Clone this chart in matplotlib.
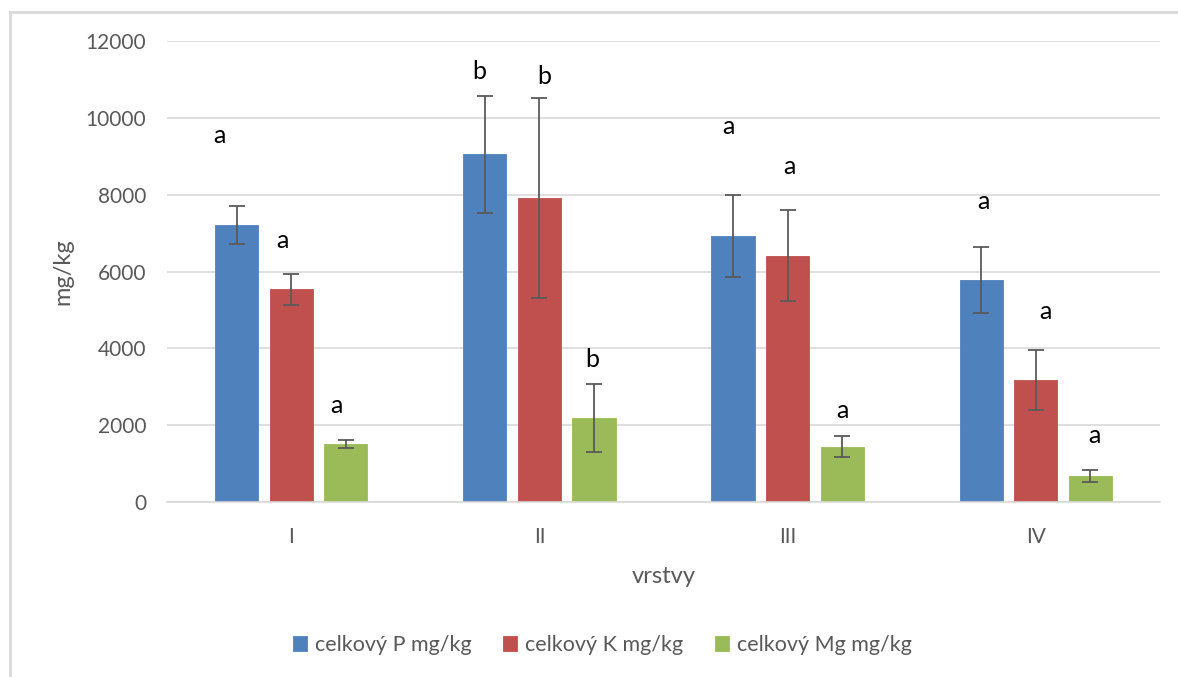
import numpy as np
import matplotlib
matplotlib.use("Agg")
import matplotlib.pyplot as plt
from matplotlib.lines import Line2D

plt.rcParams['font.family'] = ['Lato', 'DejaVu Sans']

layers = ["I", "II", "III", "IV"]
series = ["celkový P mg/kg", "celkový K mg/kg", "celkový Mg mg/kg"]
colors = ["#4F81BD", "#C0504D", "#9BBB59"]

p_mean = [7210, 9050, 6925, 5775]
k_mean = [5540, 7910, 6415, 3170]
mg_mean = [1510, 2180, 1440, 670]

p_err = [490, 1520, 1070, 850]
k_err = [400, 2610, 1185, 780]
mg_err = [105, 885, 270, 155]

# significance letters and where their baseline sits (mg/kg)
p_letters = ["a", "b", "a", "a"]
k_letters = ["a", "b", "a", "a"]
mg_letters = ["a", "b", "a", "a"]
p_letter_y = [9340, 11010, 9580, 7630]
k_letter_y = [6610, 10880, 8540, 4760]
mg_letter_y = [2320, 3510, 2190, 1540]
p_letter_dx = [-0.067, -0.022, -0.020, 0.008]
k_letter_dx = [-0.036, 0.018, 0.006, 0.038]
mg_letter_dx = [-0.038, -0.008, 0.002, 0.016]

means = [p_mean, k_mean, mg_mean]
errs = [p_err, k_err, mg_err]
letters = [p_letters, k_letters, mg_letters]
letter_y = [p_letter_y, k_letter_y, mg_letter_y]
letter_dx = [p_letter_dx, k_letter_dx, mg_letter_dx]

fig = plt.figure(figsize=(11.78, 6.77), dpi=100)
ax = fig.add_axes([167 / 1178, 1 - 502 / 677, (1160 - 167) / 1178, (502 - 41) / 677])

x = np.arange(len(layers))
width = 0.174
step = 0.22
for i in range(3):
    pos = x + (i - 1) * step
    ax.bar(pos, means[i], width, color=colors[i], label=series[i], zorder=2,
           edgecolor=colors[i], linewidth=0.6)
    ax.errorbar(pos, means[i], yerr=errs[i], fmt="none", ecolor="#5a5a5a",
                elinewidth=1.3, capsize=6, capthick=1.3, zorder=3)
    for j in range(len(layers)):
        ax.text(pos[j] + letter_dx[i][j], letter_y[i][j], letters[i][j],
                ha="center", va="baseline", fontsize=18, color="black")

ax.set_xlim(-0.5, 3.5)
ax.set_ylim(0, 12000)
ax.set_yticks(np.arange(0, 12001, 2000))
ax.set_xticks(x)
ax.set_xticklabels(layers)
ax.yaxis.grid(True, color="#d9d9d9", linewidth=1.2, zorder=0)
ax.set_axisbelow(True)
for s in ["top", "right", "left"]:
    ax.spines[s].set_visible(False)
ax.spines["bottom"].set_color("#d9d9d9")
ax.spines["bottom"].set_linewidth(1.2)
ax.tick_params(axis="both", length=0, labelsize=15, labelcolor="#595959")
ax.tick_params(axis="x", pad=18)
ax.tick_params(axis="y", pad=15)

ax.set_xlabel("vrstvy", fontsize=17, color="#595959", labelpad=14)
ax.set_ylabel("mg/kg", fontsize=17, color="#595959", labelpad=9)

fig.legend(loc="center left", bbox_to_anchor=(293 / 1178, 1 - 645 / 677), ncol=3,
           frameon=False, borderpad=0, borderaxespad=0,
           fontsize=15.5, handlelength=0.65, handleheight=0.65, handletextpad=0.35,
           columnspacing=1.5, labelcolor="#595959")

fig.add_artist(Line2D([10 / 1178, 1], [1 - 12 / 677, 1 - 12 / 677], color="#d9d9d9", linewidth=2))
fig.add_artist(Line2D([10 / 1178, 10 / 1178], [0, 1 - 12 / 677], color="#d9d9d9", linewidth=2))

fig.savefig("out.png", dpi=100)
